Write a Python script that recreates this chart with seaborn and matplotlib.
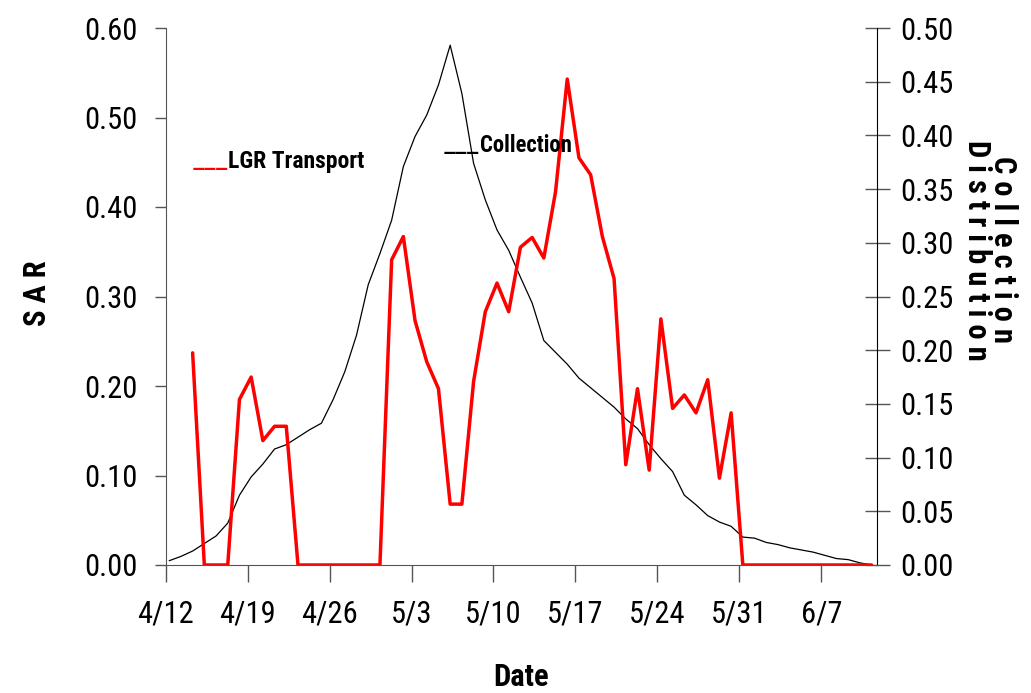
import numpy as np
import pandas as pd
import matplotlib
matplotlib.use("Agg")
import matplotlib.pyplot as plt
from matplotlib import font_manager as fm
import seaborn as sns

# ---------------- data ----------------
tick_days = [0, 7, 14, 21, 28, 35, 42, 49, 56]
tick_labels = ["4/12", "4/19", "4/26", "5/3", "5/10", "5/17", "5/24", "5/31", "6/7"]

sar_ticks = [0.0, 0.1, 0.2, 0.3, 0.4, 0.5, 0.6]
col_ticks = [0.0, 0.05, 0.10, 0.15, 0.20, 0.25, 0.30, 0.35, 0.40, 0.45, 0.50]

# days after 4/12
sar_days = list(range(2, 61))
sar = [0.237, 0, 0, 0, 0.185, 0.210, 0.139, 0.155, 0.155, 0,
       0, 0, 0, 0, 0, 0, 0,
       0.341, 0.367, 0.273, 0.227, 0.197, 0.068, 0.068, 0.205, 0.283, 0.315,
       0.283, 0.355, 0.366, 0.343, 0.417, 0.543, 0.455, 0.436, 0.367, 0.320,
       0.112, 0.197, 0.106, 0.275, 0.175, 0.190, 0.170, 0.207, 0.097, 0.170,
       0, 0, 0, 0, 0, 0, 0, 0, 0, 0, 0, 0]

col_days = list(range(0, 61))
collection = [0.004, 0.008, 0.013, 0.020, 0.027, 0.039, 0.065, 0.082, 0.094, 0.108,
              0.112, 0.119, 0.126, 0.132, 0.154, 0.180, 0.214, 0.261, 0.290, 0.321,
              0.371, 0.399, 0.419, 0.447, 0.484, 0.439, 0.374, 0.340, 0.312, 0.293,
              0.268, 0.244, 0.209, 0.198, 0.187, 0.174, 0.165, 0.156, 0.147, 0.136,
              0.127, 0.112, 0.099, 0.087, 0.065, 0.056, 0.046, 0.040, 0.036, 0.026,
              0.025, 0.021, 0.019, 0.016, 0.014, 0.012, 0.009, 0.006, 0.005, 0.002,
              0.000]

# ---------------- style ----------------
sns.set_style("ticks")

# pick a narrow font family (prefer one that has a bold face)
def wnum(w):
    if isinstance(w, (int, float)):
        return int(w)
    return {"bold": 700, "heavy": 800, "black": 900, "semibold": 600,
            "demibold": 600, "medium": 500}.get(str(w).lower(), 400)

fams = {}
for f in fm.fontManager.ttflist:
    if "Narrow" in f.name or "Condensed" in f.name:
        fams.setdefault(f.name, set()).add(wnum(f.weight))
preferred = ["Liberation Sans Narrow", "Arial Narrow", "Roboto Condensed",
             "Open Sans Condensed", "Noto Sans Condensed", "DejaVu Sans Condensed"]
order = [n for n in preferred if n in fams] + sorted(n for n in fams if n not in preferred)
reg_family = order[0] if order else "Liberation Sans"
bold_candidates = [n for n in order if max(fams[n]) >= 600]
bold_family = bold_candidates[0] if bold_candidates else reg_family
scale = 1.0 if order else 0.86

plt.rcParams['font.family'] = [reg_family, 'DejaVu Sans']
plt.rcParams['text.color'] = 'black'
plt.rcParams['axes.labelcolor'] = 'black'

W, H = 1031, 693
fig = plt.figure(figsize=(W / 100, H / 100), dpi=100)
L, R, T, B = 165.7, 877, 28, 565
ax = fig.add_axes([L / W, 1 - B / H, (R - L) / W, (B - T) / H])
ax2 = ax.twinx()

shift = 0.3
df_sar = pd.DataFrame({"day": np.array(sar_days) + shift, "SAR": sar})
df_col = pd.DataFrame({"day": np.array(col_days) + shift, "Collection": collection})

sns.lineplot(data=df_col, x="day", y="Collection", ax=ax2, color="black",
             linewidth=0.9, legend=False)
sns.lineplot(data=df_sar, x="day", y="SAR", ax=ax, color="#ff0000",
             linewidth=2.5, legend=False)

ax.set_zorder(ax2.get_zorder() + 1)
ax.patch.set_visible(False)

ax.set_xlim(0, 60.76)
ax.set_ylim(0, 0.6)
ax2.set_ylim(0, 0.5)

ax.set_xticks(tick_days)
ax.set_xticklabels(tick_labels)
ax.set_yticks(sar_ticks)
ax.set_yticklabels([f"{v:.2f}" for v in sar_ticks])
ax2.set_yticks(col_ticks)
ax2.set_yticklabels([f"{v:.2f}" for v in col_ticks])

for a in (ax, ax2):
    a.set_xlabel("")
    a.set_ylabel("")

gray = "#555555"
ax.spines["top"].set_visible(False)
ax.spines["right"].set_visible(False)
ax.spines["left"].set_color(gray)
ax.spines["bottom"].set_color(gray)
ax2.spines["top"].set_visible(False)
ax2.spines["left"].set_visible(False)
ax2.spines["bottom"].set_visible(False)
ax2.spines["right"].set_color("black")

fs = 22 * scale
ax.tick_params(axis="y", direction="out", length=8, width=1, color=gray,
               pad=12, labelsize=fs, labelcolor="black")
ax.tick_params(axis="x", direction="out", length=12, width=1, color=gray,
               pad=13, labelsize=fs, labelcolor="black")
ax2.tick_params(axis="y", direction="inout", length=18, width=1, color=gray,
                pad=8, labelsize=fs, labelcolor="black")

def fx(px):
    return px / W

def fy(py):
    return 1 - py / H

bold = dict(family=[bold_family, 'DejaVu Sans'], fontweight="bold", color="black")

# axis titles
fig.text(fx(37), fy(293), "S A R", rotation=90, ha="center", va="center",
         fontsize=fs, **bold)
fig.text(fx(521), fy(677), "Date", ha="center", va="center",
         fontsize=fs, **bold)
fig.text(fx(990), fy(250), "C o l l e c t i o n\nD i s t r i b u t i o n",
         rotation=-90, ha="center", va="center", multialignment="center",
         fontsize=fs, linespacing=0.85, **bold)

# in-plot labels
lfs = 17 * scale
ufs = 21 * scale
reg = dict(family=[reg_family, 'DejaVu Sans'])
fig.text(fx(228), fy(168), "___", ha="right", va="baseline",
         fontsize=ufs, color="#ff0000", **reg)
fig.text(fx(228), fy(168), "LGR Transport", ha="left",
         va="baseline", fontsize=lfs, **bold)
fig.text(fx(479), fy(152), "___", ha="right", va="baseline",
         fontsize=ufs, color="black", **reg)
fig.text(fx(480), fy(152), "Collection", ha="left",
         va="baseline", fontsize=lfs * 0.96, **bold)

fig.savefig("out.png", dpi=100)
